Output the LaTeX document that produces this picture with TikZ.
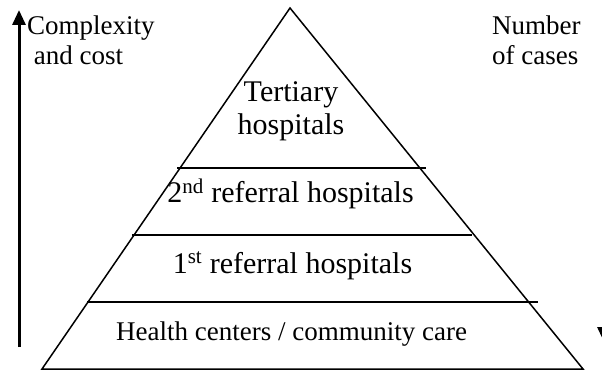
\documentclass[tikz,border=0pt]{standalone}
\usepackage{fontspec}
\setmainfont{Liberation Serif}
\usetikzlibrary{arrows.meta}

\begin{document}
\begin{tikzpicture}[x=1pt, y=-1pt]
	\tikzstyle{every node} = [inner sep=0pt, font=\fontsize{27}{30}\selectfont]
	\tikzstyle{tier} = [font=\fontsize{30}{33}\selectfont]
	\tikzstyle{level} = [line width=1.5pt]
	\tikzstyle{axis} = [line width=3pt, -{Triangle[length=15pt, width=13pt]}]
	\useasboundingbox (0, 0) rectangle (602, 371);
	\clip (0, 0) rectangle (602, 371);
	% pyramid outline
	\coordinate (apex) at (290, 8);
	\coordinate (baseL) at (42, 369);
	\coordinate (baseR) at (583, 369);
	\draw [level] (baseL) -- (apex) -- (baseR) -- cycle;
	% levels
	\coordinate (l1a) at (177, 168);
	\coordinate (l1b) at (426, 168);
	\coordinate (l2a) at (132, 235);
	\coordinate (l2b) at (472, 235);
	\coordinate (l3a) at (87, 302);
	\coordinate (l3b) at (538, 302);
	\draw [level] (l1a) -- (l1b);
	\draw [level] (l2a) -- (l2b);
	\draw [level] (l3a) -- (l3b);
	\node [tier, align=center] (tertiary) at (291, 111) {Tertiary\\hospitals};
	\node [tier, anchor=base] (second) at (290.5, 203) {2\textsuperscript{nd} referral hospitals};
	\node [tier, anchor=base] (first) at (292.5, 273) {1\textsuperscript{st} referral hospitals};
	\node [anchor=base] (primary) at (291.5, 340) {Health centers / community care};
	% side scales
	\node [align=left, anchor=north west] (cost) at (27, 16) {Complexity\\\hspace*{0.25em}and cost};
	\node [align=left, anchor=north west] (cases) at (492, 16) {Number\\of cases};
	\coordinate (costFrom) at (19, 347);
	\coordinate (costTo) at (19, 10);
	\coordinate (casesFrom) at (604, 20);
	\coordinate (casesTo) at (604, 342);
	\draw [axis] (costFrom) -- (costTo);
	\draw [axis] (casesFrom) -- (casesTo);
\end{tikzpicture}
\end{document}
